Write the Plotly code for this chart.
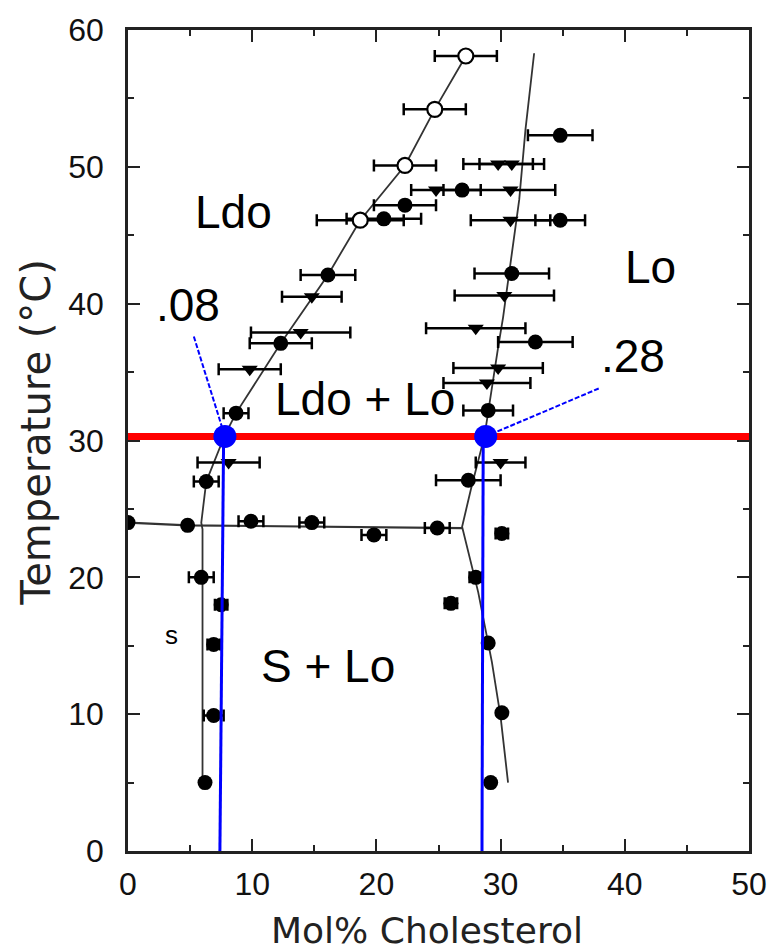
import plotly.graph_objects as go

# ---------------- data ----------------
# open circles: Ldo / Ldo+Lo boundary
open_x = [27.2, 24.7, 22.3, 18.7]
open_y = [58.1, 54.2, 50.1, 46.1]
open_err = [2.5, 2.5, 2.5, 3.5]

# filled circles
fill_x = [22.3, 20.6, 16.1, 12.3, 8.7, 6.3,
          0.0, 4.8, 9.9, 14.8, 19.8, 24.9, 30.1,
          5.9, 7.5, 6.9, 6.9, 6.2,
          28.0, 26.0, 29.0, 30.1, 29.2,
          34.8, 26.9, 34.8, 30.9, 32.8, 29.0, 27.4]
fill_y = [47.2, 46.2, 42.1, 37.1, 32.0, 27.0,
          24.0, 23.8, 24.1, 24.0, 23.1, 23.6, 23.2,
          20.0, 18.0, 15.1, 9.9, 5.0,
          20.0, 18.1, 15.2, 10.1, 5.0,
          52.3, 48.3, 46.1, 42.2, 37.2, 32.2, 27.1]
fill_err = [2.5, 3.0, 2.2, 2.5, 1.0, 1.0,
            0.0, 0.0, 1.0, 1.0, 1.0, 1.0, 0.5,
            1.0, 0.5, 0.5, 0.8, 0.0,
            0.5, 0.5, 0.0, 0.0, 0.0,
            2.6, 1.5, 2.0, 3.0, 3.0, 2.0, 2.6]

# filled down-triangles
tri_x = [29.8, 30.9, 24.8, 30.8, 30.8, 30.3, 28.0, 29.8, 28.9, 30.0,
         14.8, 13.9, 9.8, 8.1]
tri_y = [50.2, 50.2, 48.3, 48.3, 46.1, 40.6, 38.2, 35.3, 34.2, 28.4,
         40.5, 37.9, 35.2, 28.4]
tri_err = [2.8, 2.6, 2.0, 3.6, 3.2, 4.0, 4.0, 3.6, 3.5, 2.0,
           2.4, 4.0, 2.5, 2.5]

# phase boundary lines
left_bx = [27.2, 24.7, 22.3, 18.7, 16.1, 12.3, 8.7, 7.8, 6.3, 5.9, 6.0, 6.0]
left_by = [58.1, 54.2, 50.1, 46.1, 42.1, 37.1, 32.0, 30.4, 27.0, 24.0, 23.5, 5.0]
right_bx = [32.7, 32.0, 31.5, 30.2, 29.8, 28.7, 27.6, 26.9, 28.2, 29.3, 30.0, 30.6]
right_by = [58.3, 52.7, 47.6, 39.0, 36.8, 30.3, 26.4, 23.7, 18.9, 13.8, 9.8, 5.0]
three_x = [0.0, 4.8, 26.9]
three_y = [24.0, 23.8, 23.6]

# highlighted tie line at 30 °C
tie_T = 30.3
tie_range = [0, 50]
tie_x = [7.8, 28.8]
drop_x_top = [7.7, 28.6]
drop_x_bot = [7.4, 28.5]
lead_from = [(5.3, 37.6), (37.9, 33.8)]

# labels
region_labels = ["Ldo", "Lo", "Ldo + Lo", "S + Lo", "s", ".08", ".28"]
region_x = [8.5, 42.1, 19.1, 16.1, 3.5, 4.8, 40.7]
region_y = [46.7, 42.7, 33.0, 13.5, 15.8, 39.9, 36.2]
region_size = [46, 46, 46, 46, 26, 46, 46]

x_ticks = [0, 10, 20, 30, 40, 50]
y_ticks = [0, 10, 20, 30, 40, 50, 60]

# ---------------- figure ----------------
fig = go.Figure()

line_col = "#333333"
fig.add_trace(go.Scatter(x=left_bx, y=left_by, mode="lines",
                         line=dict(color=line_col, width=1.8), hoverinfo="skip"))
fig.add_trace(go.Scatter(x=right_bx, y=right_by, mode="lines",
                         line=dict(color=line_col, width=1.8), hoverinfo="skip"))
fig.add_trace(go.Scatter(x=three_x, y=three_y, mode="lines",
                         line=dict(color=line_col, width=2.2), hoverinfo="skip"))

err_style = dict(type="data", visible=True, thickness=2.5, width=6, color="black")

fig.add_trace(go.Scatter(x=tri_x, y=tri_y, mode="markers",
                         marker=dict(symbol="triangle-down", size=14, color="black"),
                         error_x=dict(array=tri_err, **err_style)))
fig.add_trace(go.Scatter(x=fill_x, y=fill_y, mode="markers",
                         marker=dict(symbol="circle", size=15, color="black"),
                         error_x=dict(array=fill_err, **err_style)))
fig.add_trace(go.Scatter(x=open_x, y=open_y, mode="markers",
                         marker=dict(symbol="circle", size=15, color="white",
                                     line=dict(color="black", width=2.2)),
                         error_x=dict(array=open_err, **err_style)))

# red tie line
fig.add_trace(go.Scatter(x=tie_range, y=[tie_T, tie_T], mode="lines",
                         line=dict(color="#ff0000", width=7), hoverinfo="skip"))

# blue drop lines and leaders
for i in range(2):
    fig.add_trace(go.Scatter(x=[drop_x_top[i], drop_x_bot[i]], y=[tie_T, 0], mode="lines",
                             line=dict(color="#0000ff", width=3), hoverinfo="skip"))
    fig.add_trace(go.Scatter(x=[lead_from[i][0], tie_x[i]], y=[lead_from[i][1], tie_T],
                             mode="lines",
                             line=dict(color="#0000ff", width=2, dash="5px,2px"),
                             hoverinfo="skip"))
fig.add_trace(go.Scatter(x=tie_x, y=[tie_T, tie_T], mode="markers",
                         marker=dict(symbol="circle", size=23, color="#0000ff"),
                         hoverinfo="skip"))

for t, x, y, s in zip(region_labels, region_x, region_y, region_size):
    fig.add_annotation(x=x, y=y, text=t, showarrow=False, xref="x", yref="y",
                       font=dict(family="Liberation Sans, Arial", size=s, color="black"))

fig.add_annotation(x=0.482, y=-0.0974, xref="paper", yref="paper", text="Mol% Cholesterol",
                   showarrow=False, yanchor="middle",
                   font=dict(family="DejaVu Sans", size=36, color="#222222"))
fig.add_annotation(x=-0.148, y=0.51, xref="paper", yref="paper", text="Temperature (°C)",
                   showarrow=False, textangle=-90, xanchor="center",
                   font=dict(family="DejaVu Sans", size=40, color="#222222"))

axis_common = dict(showgrid=False, zeroline=False, showline=True, linecolor="#222222",
                   linewidth=2.5, mirror="ticks", ticks="inside", ticklen=12,
                   tickwidth=2, tickcolor="#222222", automargin=False,
                   tickfont=dict(family="Liberation Sans, Arial", size=32, color="#111111"),
                   minor=dict(ticks="inside", ticklen=6, tickwidth=2, dtick=5,
                              tickcolor="#222222"))

fig.update_xaxes(range=[0, 50], tickvals=x_ticks, ticklabelstandoff=3, **axis_common)
fig.update_yaxes(range=[0, 60], tickvals=y_ticks, ticklabelstandoff=15, **axis_common)

fig.update_layout(width=771, height=952, showlegend=False,
                  plot_bgcolor="white", paper_bgcolor="white",
                  margin=dict(l=128, r=22, t=30, b=101))

fig.write_html("out.html", config={"displayModeBar": False},
               post_script="document.body.style.margin='0';document.body.style.overflow='hidden';")
